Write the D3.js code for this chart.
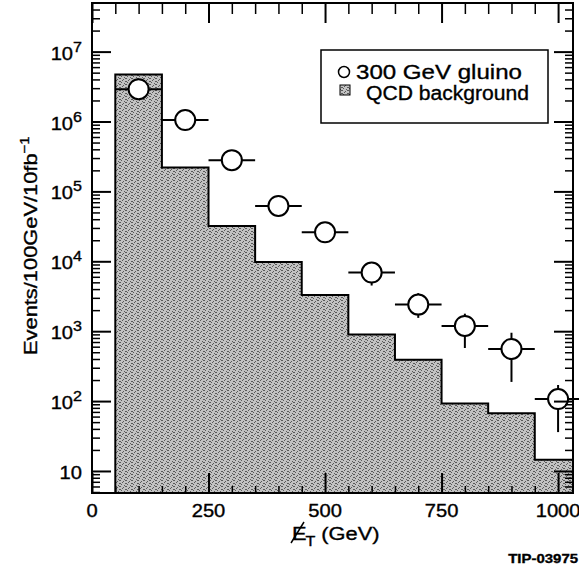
<!DOCTYPE html>
<html>
<head>
<meta charset="utf-8">
<script src="https://cdn.jsdelivr.net/npm/d3@7"></script>
<style>
  body { margin: 0; background: #fff; }
  text { font-family: "Liberation Sans", Arial, Helvetica, sans-serif; fill: #000; stroke: #000; stroke-width: 0.35; }
  .axis path { display: none; }
  .axis line { stroke: #000; stroke-width: 2; }
</style>
</head>
<body>
<div id="chart"></div>
<script>
// QCD background histogram: bin edges (GeV) and events per bin
var qcdEdges = [50, 150, 250, 350, 450, 550, 650, 750, 850, 950, 1032];
var qcdCounts = [4.7e6, 2.2e5, 3.2e4, 9.8e3, 3.3e3, 900, 390, 92, 67, 14.5];

// 300 GeV gluino signal points
var gluinoEt = [100, 200, 300, 400, 500, 600, 700, 800, 900, 1000];
var gluinoCounts = [2.9e6, 1.05e6, 2.8e5, 6.2e4, 2.6e4, 6.9e3, 2.4e3, 1.19e3, 556, 107];
var gluinoLow = [null, null, null, null, null, 4.5e3, 1.55e3, 575, 188, 36];
var gluinoHigh = [null, null, null, null, null, 9.0e3, 3.5e3, 1.78e3, 950, 170];
var gluinoHalfWidth = 50;

// axis labels
var xTickLabels = [0, 250, 500, 750, 1000];
var yTickExps = [1, 2, 3, 4, 5, 6, 7];
var legendLabels = ["300 GeV gluino", "QCD background"];

var W = 579, H = 575,
    plot = { left: 92, top: 3, right: 573, bottom: 493 },
    stretch = 1.15;

var x = d3.scaleLinear()
  .domain([0, 1032])
  .range([plot.left, plot.right]);

var y = d3.scaleLog()
  .domain([4.84, 4.96e7])
  .range([plot.bottom, plot.top]);

var svg = d3.select("#chart").append("svg")
  .attr("width", W)
  .attr("height", H);

// stipple fill like the scanned grey
var pat = svg.append("defs").append("pattern")
  .attr("id", "stipple")
  .attr("width", 6).attr("height", 6)
  .attr("patternUnits", "userSpaceOnUse");
pat.append("rect").attr("width", 6).attr("height", 6).attr("fill", "#c2c2c2");
[[0,0],[3,1],[5,3],[1,4],[4,5],[2,2],[0,3],[5,0]].forEach(function(p){
  pat.append("rect").attr("x", p[0]).attr("y", p[1])
    .attr("width", 1).attr("height", 1).attr("fill", "#5a5a5a");
});

// histogram
var steps = [];
qcdCounts.forEach(function(c, i){
  steps.push([qcdEdges[i], c]);
  steps.push([qcdEdges[i+1], c]);
});

svg.append("path")
  .datum(steps)
  .attr("fill", "url(#stipple)")
  .attr("d", d3.area()
    .x(function(d){ return x(d[0]); })
    .y0(plot.bottom)
    .y1(function(d){ return y(d[1]); }));

svg.append("path")
  .datum([[qcdEdges[0], y.domain()[0]]].concat(steps))
  .attr("fill", "none")
  .attr("stroke", "#000")
  .attr("stroke-width", 2)
  .attr("d", d3.line()
    .x(function(d){ return x(d[0]); })
    .y(function(d){ return y(d[1]); }));

// gluino points with error bars
var pts = gluinoEt.map(function(e, i){
  return { et: e, v: gluinoCounts[i], lo: gluinoLow[i], hi: gluinoHigh[i] };
});

var pg = svg.append("g").attr("class", "points");

pg.selectAll(".xerr").data(pts).enter().append("line")
  .attr("class", "xerr")
  .attr("x1", function(d){ return x(d.et - gluinoHalfWidth); })
  .attr("x2", function(d){ return x(d.et + gluinoHalfWidth); })
  .attr("y1", function(d){ return y(d.v); })
  .attr("y2", function(d){ return y(d.v); })
  .attr("stroke", "#000").attr("stroke-width", 2);

pg.selectAll(".yerr").data(pts.filter(function(d){ return d.lo; })).enter().append("line")
  .attr("class", "yerr")
  .attr("x1", function(d){ return x(d.et); })
  .attr("x2", function(d){ return x(d.et); })
  .attr("y1", function(d){ return y(d.lo); })
  .attr("y2", function(d){ return y(d.hi); })
  .attr("stroke", "#000").attr("stroke-width", 2);

pg.selectAll("circle").data(pts).enter().append("circle")
  .attr("cx", function(d){ return x(d.et); })
  .attr("cy", function(d){ return y(d.v); })
  .attr("r", 10)
  .attr("fill", "#fff")
  .attr("stroke", "#000")
  .attr("stroke-width", 2);

// ticks on all four sides, inside
var xMinor = d3.range(0, 1001, 50).filter(function(v){ return v % 250; });
var yMajor = yTickExps.map(function(e){ return Math.pow(10, e); });
var yMinor = [];
d3.range(0, 8).forEach(function(e){
  d3.range(2, 10).forEach(function(m){
    var v = m * Math.pow(10, e);
    if (v > y.domain()[0] && v < y.domain()[1]) yMinor.push(v);
  });
});

function addAxis(axis, tx, ty, w){
  svg.append("g").attr("class", "axis")
    .attr("transform", translate(tx, ty))
    .call(axis.tickFormat(""))
    .selectAll("line").style("stroke-width", w);
}

addAxis(d3.axisTop(x).tickValues(xTickLabels).tickSize(20), 0, plot.bottom, 2);
addAxis(d3.axisTop(x).tickValues(xMinor).tickSize(7), 0, plot.bottom, 1.5);
addAxis(d3.axisBottom(x).tickValues(xTickLabels).tickSize(20), 0, plot.top, 2);
addAxis(d3.axisBottom(x).tickValues(xMinor).tickSize(11), 0, plot.top, 1.5);
addAxis(d3.axisRight(y).tickValues(yMajor).tickSize(19), plot.left, 0, 2);
addAxis(d3.axisRight(y).tickValues(yMinor).tickSize(8), plot.left, 0, 1.5);
addAxis(d3.axisLeft(y).tickValues(yMajor).tickSize(19), plot.right, 0, 2);
addAxis(d3.axisLeft(y).tickValues(yMinor).tickSize(8), plot.right, 0, 1.5);

// frame
svg.append("rect")
  .attr("x", plot.left).attr("y", plot.top)
  .attr("width", plot.right - plot.left)
  .attr("height", plot.bottom - plot.top)
  .attr("fill", "none")
  .attr("stroke", "#000")
  .attr("stroke-width", 2);

// stretched text helper (scan looks wider than the fonts we have)
function label(px, py, size, anchor, rotate){
  return svg.append("g")
    .attr("transform", translate(px, py) + (rotate ? " rotate(" + rotate + ")" : "") + " scale(" + stretch + ",1)")
    .append("text")
    .attr("text-anchor", anchor)
    .style("font-size", size + "px");
}

// x tick labels
xTickLabels.forEach(function(v){
  label(x(v), 517, 17.5, "middle").text(v);
});

// y tick labels
yTickExps.forEach(function(e){
  var t = label(plot.left - 10, y(Math.pow(10, e)) + 8, 17.5, "end");
  t.append("tspan").text("10");
  if (e > 1) t.append("tspan").attr("dy", -8).style("font-size", "14px").text(e);
});

// axis titles
var yt = label(37, 355, 19, "start", -90);
yt.append("tspan").text("Events/100GeV/10fb");
yt.append("tspan").attr("dy", -8).style("font-size", "13px").text("\u22121");

var xt = label(292, 540, 19, "start");
xt.append("tspan").text("E");
xt.append("tspan").attr("dx", -1).attr("dy", 6).style("font-size", "14px").text("T");
xt.append("tspan").attr("dy", -6).text(" (GeV)");

svg.append("line")
  .attr("x1", 291).attr("y1", 543)
  .attr("x2", 304).attr("y2", 522)
  .attr("stroke", "#000").attr("stroke-width", 1.5);

label(578, 563, 13, "end").style("font-weight", "bold").text("TIP-03975");

// legend
var legend = svg.append("g").attr("class", "legend");

legend.append("rect")
  .attr("x", 321).attr("y", 50)
  .attr("width", 227).attr("height", 73)
  .attr("fill", "#fff")
  .attr("stroke", "#000")
  .attr("stroke-width", 1.5);

legend.append("circle")
  .attr("cx", 344).attr("cy", 72).attr("r", 5.5)
  .attr("fill", "#fff").attr("stroke", "#000").attr("stroke-width", 1.5);

legend.append("rect")
  .attr("x", 340).attr("y", 85).attr("width", 10).attr("height", 10)
  .attr("fill", "url(#stipple)").attr("stroke", "#000").attr("stroke-width", 1);

legend.append("text")
  .attr("x", 356).attr("y", 79)
  .attr("textLength", 166).attr("lengthAdjust", "spacingAndGlyphs")
  .style("font-size", "21px")
  .text(legendLabels[0]);

legend.append("text")
  .attr("x", 366).attr("y", 100)
  .attr("textLength", 163).attr("lengthAdjust", "spacingAndGlyphs")
  .style("font-size", "20px")
  .text(legendLabels[1]);

function translate(x, y){
  return "translate(" + x + "," + y + ")";
}
</script>
</body>
</html>
